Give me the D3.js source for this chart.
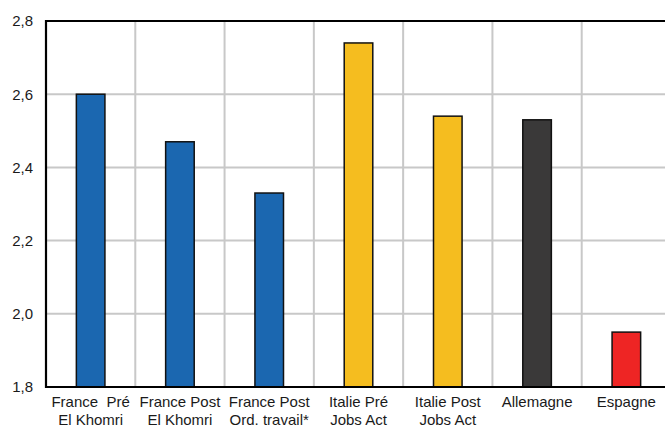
<!DOCTYPE html>
<html><head><meta charset="utf-8">
<script src="https://cdn.jsdelivr.net/npm/d3@7"></script>
<style>body{margin:0;background:#fff}svg{display:block}</style>
</head><body>
<svg id="c" width="665" height="427"></svg>
<script>
const categories = [["France\u00a0\u00a0Pré","El Khomri"],["France Post","El Khomri"],["France Post","Ord. travail*"],["Italie Pré","Jobs Act"],["Italie Post","Jobs Act"],["Allemagne"],["Espagne"]];
const values = [2.60, 2.47, 2.33, 2.74, 2.54, 2.53, 1.95];
const colors = ["#1b67b0","#1b67b0","#1b67b0","#f5bd1f","#f5bd1f","#3a3939","#ee2524"];
const yTicks = [1.8, 2.0, 2.2, 2.4, 2.6, 2.8];

const svg = d3.select("#c");
const m = {l:46, t:21, b:387, r:671};
const x = d3.scaleBand().domain(d3.range(categories.length)).range([m.l, m.r]).paddingInner(0).paddingOuter(0);
const y = d3.scaleLinear().domain([1.8, 2.8]).range([m.b, m.t]);
const font = "'Liberation Sans', Arial, sans-serif";

// gridlines
svg.append("g").selectAll("line.h").data(yTicks.slice(1, -1)).join("line")
  .attr("x1", m.l).attr("x2", m.r).attr("y1", d => y(d)).attr("y2", d => y(d))
  .attr("stroke", "#c8c8c8").attr("stroke-width", 2);
svg.append("g").selectAll("line.v").data(d3.range(1, categories.length)).join("line")
  .attr("x1", d => x(d)).attr("x2", d => x(d)).attr("y1", m.t).attr("y2", m.b)
  .attr("stroke", "#c8c8c8").attr("stroke-width", 2);

// bars
const bw = x.bandwidth() * 0.32;
svg.append("g").selectAll("rect").data(values).join("rect")
  .attr("x", (d, i) => x(i) + x.bandwidth() / 2 - bw / 2)
  .attr("y", d => y(d))
  .attr("width", bw)
  .attr("height", d => y(1.8) - y(d))
  .attr("fill", (d, i) => colors[i])
  .attr("stroke", "#111").attr("stroke-width", 1.5);

// axes lines
svg.append("line").attr("x1", m.l).attr("x2", m.l).attr("y1", m.t - 1).attr("y2", m.b + 1).attr("stroke", "#000").attr("stroke-width", 2.2);
svg.append("line").attr("x1", m.l - 1).attr("x2", m.r).attr("y1", m.t).attr("y2", m.t).attr("stroke", "#000").attr("stroke-width", 2.2);
svg.append("line").attr("x1", m.l - 1).attr("x2", m.r).attr("y1", m.b).attr("y2", m.b).attr("stroke", "#000").attr("stroke-width", 2.2);

// y tick labels
const yAxis = d3.axisLeft(y).tickValues(yTicks).tickSize(0).tickPadding(13)
  .tickFormat(d => d3.format(".1f")(d).replace(".", ","));
const ga = svg.append("g").attr("transform", `translate(${m.l},0)`).call(yAxis);
ga.select(".domain").remove();
ga.selectAll("text").attr("font-family", font).attr("font-size", 15).attr("fill", "#1a1a1a");

// x labels
const xl = svg.append("g").selectAll("text").data(categories).join("text")
  .attr("x", (d, i) => x(i) + x.bandwidth() / 2)
  .attr("y", 407)
  .attr("text-anchor", "middle")
  .attr("font-family", font).attr("font-size", 15).attr("fill", "#1a1a1a");
xl.selectAll("tspan").data(d => d).join("tspan")
  .attr("x", function() { return this.parentNode.getAttribute("x"); })
  .attr("dy", (d, i) => i === 0 ? 0 : 18)
  .text(d => d);
</script>
</body></html>
